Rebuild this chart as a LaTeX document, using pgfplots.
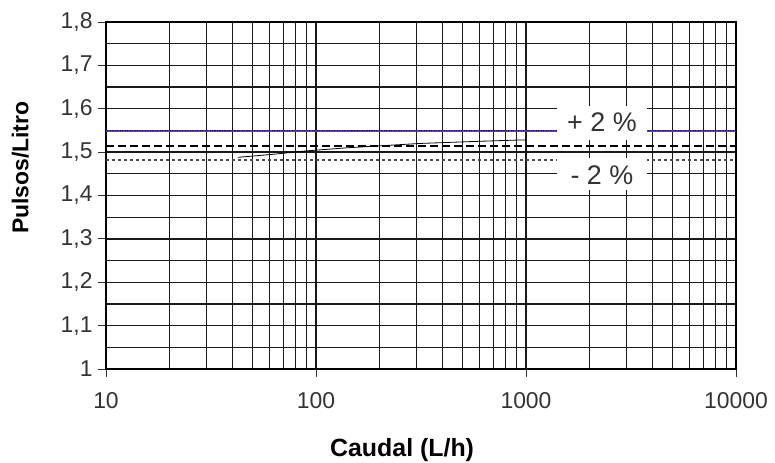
\documentclass[border=0pt]{standalone}
\usepackage{fontspec}
\setmainfont{Liberation Sans}
\usepackage{pgfplots}
\pgfplotsset{compat=1.18}
\definecolor{lim}{RGB}{90,60,185}
\begin{document}
\begin{tikzpicture}
\begin{axis}[
  scale only axis,
  width=630bp, height=347bp,
  xmode=log, log basis x=10,
  xmin=10, xmax=10000,
  ymin=1, ymax=1.8,
  xtick={10,100,1000,10000},
  xticklabels={10,100,1000,10000},
  minor xtick={20,30,40,50,60,70,80,90,200,300,400,500,600,700,800,900,2000,3000,4000,5000,6000,7000,8000,9000},
  ytick={1,1.1,1.2,1.3,1.4,1.5,1.6,1.7,1.8},
  minor ytick={1.05,1.15,1.25,1.35,1.45,1.55,1.65,1.75},
  grid=both,
  major grid style={line width=1.3pt, draw=black!90},
  minor grid style={line width=1.3pt, draw=black!90},
  axis line style={line width=2.4pt},
  tick align=outside,
  xtick pos=left, ytick pos=left,
  major tick length=8bp, minor tick length=0pt,
  tick style={line width=1pt, black!80},
  /pgf/number format/use comma,
  /pgf/number format/assume math mode=true,
  yticklabel style={/pgf/number format/fixed, /pgf/number format/precision=1, font=\fontsize{23}{26}\selectfont, text=black!80, xshift=-2bp},
  xticklabel style={font=\fontsize{23}{26}\selectfont, text=black!80, yshift=-12bp},
  xlabel={\textbf{Caudal (L/h)}},
  ylabel={\textbf{Pulsos/Litro}},
  xlabel style={font=\fontsize{25}{30}\selectfont, at={(axis description cs:0.47,-0.235)}, anchor=center},
  ylabel style={font=\fontsize{23}{27}\selectfont, at={(axis description cs:-0.136,0.58)}, anchor=center},
]
% +2 %
\addplot[lim, line width=0.7pt] coordinates {(10,1.549)(10000,1.549)};
\addplot[lim, line width=1.8pt, dash pattern=on 1.4pt off 1.1pt] coordinates {(10,1.549)(10000,1.549)};
% nominal
\addplot[black, line width=2.2pt, dash pattern=on 8bp off 4bp] coordinates {(10,1.515)(10000,1.515)};
% -2 %
\addplot[black!70, line width=1.3pt, dash pattern=on 2.5bp off 3.5bp] coordinates {(10,1.482)(10000,1.482)};
% measured curve
\addplot[black, line width=0.8pt] coordinates {
  (42.5,1.488)(62.4,1.495)(90.6,1.503)(140.6,1.510)(312.6,1.520)(600,1.525)(936,1.528)(1000,1.528)
};
\fill[white] (axis cs:1406,1.528) rectangle (axis cs:3767,1.606);
\fill[white] (axis cs:1406,1.413) rectangle (axis cs:3767,1.486);
\node[font=\fontsize{27}{30}\selectfont, text=black!80] at (axis cs:2300,1.568) {+ 2 \%};
\node[font=\fontsize{27}{30}\selectfont, text=black!80] at (axis cs:2300,1.447) {- 2 \%};
\end{axis}
\pgfresetboundingbox
\path (current axis.south west) ++(-106bp,-94bp) rectangle ++(775bp,463bp);
\end{tikzpicture}
\end{document}
